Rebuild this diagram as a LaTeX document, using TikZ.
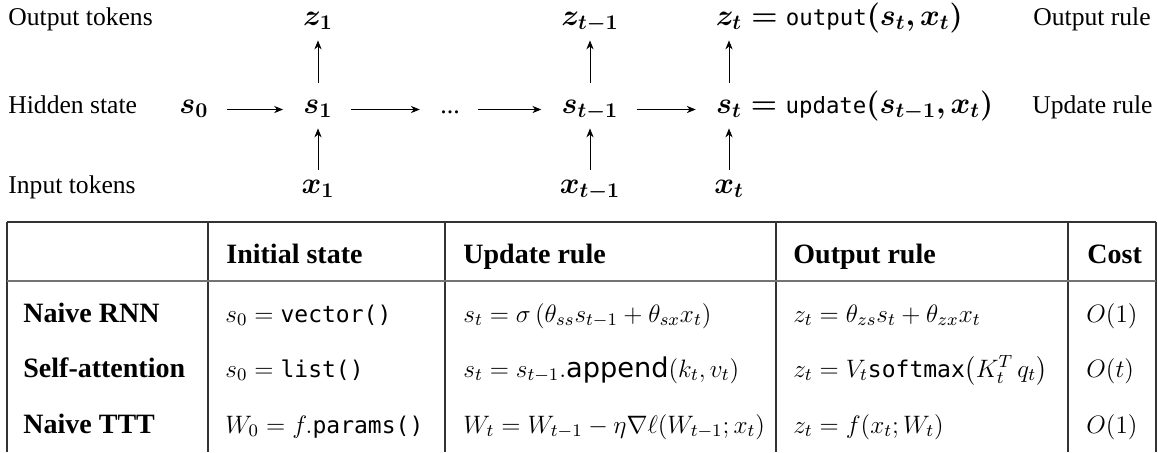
\RequirePackage{fix-cm}
\documentclass[tikz,border=0pt]{standalone}
\usepackage{amsmath}
\usepackage{bm}
\usepackage[no-math]{fontspec}
\setmainfont{Liberation Serif}
\setmonofont{DejaVu Sans Mono}
\setsansfont{DejaVu Sans}
\usetikzlibrary{arrows.meta}
\newcommand{\ttop}[1]{\text{\fontsize{11.2}{13}\selectfont\ttfamily #1}}
\newcommand{\ttab}[1]{\text{\fontsize{11.5}{13}\selectfont\ttfamily #1}}
\newcommand{\stab}[1]{\text{\fontsize{13.6}{15}\selectfont\sffamily #1}}
\begin{document}
\begin{tikzpicture}[x=0.5pt,y=-0.5pt,
  lbl/.style={anchor=base west,inner sep=0pt,font=\fontsize{12.8}{15}\selectfont},
  mnode/.style={anchor=base,inner xsep=0pt,inner ysep=0pt,text height=6pt,text depth=2.5pt,font=\fontsize{15}{17}\selectfont},
  mdef/.style={anchor=base west,inner sep=0pt,font=\fontsize{15}{17}\selectfont},
  arr/.style={-{Stealth[length=4.5pt,width=3.6pt]},line width=0.5pt},
  harr/.style={arr,shorten <=9pt,shorten >=10pt},
  upin/.style={arr,shorten <=5.5pt,shorten >=5pt},
  upout/.style={arr,shorten <=9pt,shorten >=5pt},
  tline/.style={line width=0.6pt,draw=black!80},
  hsep/.style={line width=1pt,draw=black!55},
  thead/.style={anchor=base west,inner sep=0pt,font=\fontsize{14}{16}\selectfont\bfseries},
  tcell/.style={anchor=base west,inner sep=0pt,font=\fontsize{12.6}{15}\selectfont},
]
\useasboundingbox (0,0) rectangle (1158,452);

% ---- top diagram labels
\node[lbl] (lout) at (8,25) {Output tokens};
\node[lbl] (lhid) at (8,113) {Hidden state};
\node[lbl] (linp) at (8,193) {Input tokens};
\node[lbl] (rout) at (1033,25) {Output rule};
\node[lbl] (rupd) at (1032,113) {Update rule};

% ---- math nodes
\node[mnode] (s0) at (194,113) {$\bm{s_0}$};
\node[mnode] (s1) at (318,113) {$\bm{s_1}$};
\node[mnode] (dots) at (450,113) {\fontsize{13}{15}\selectfont...};
\node[mnode] (stm) at (590,113) {$\bm{s_{t-1}}$};
\node[mnode] (st) at (729,113) {$\bm{s_t}$};
\node[mdef] (stdef) at (st.base east) {${}\bm{=}\ttop{update}\bm{(s_{t-1},x_t)}$};

\node[mnode] (z1) at (318,25) {$\bm{z_1}$};
\node[mnode] (ztm) at (590,25) {$\bm{z_{t-1}}$};
\node[mnode] (zt) at (729,25) {$\bm{z_t}$};
\node[mdef] (ztdef) at (zt.base east) {${}\bm{=}\ttop{output}\bm{(s_t,x_t)}$};

\node[mnode] (x1) at (318,193) {$\bm{x_1}$};
\node[mnode] (xtm) at (590,193) {$\bm{x_{t-1}}$};
\node[mnode] (xt) at (729,193) {$\bm{x_t}$};

% ---- connectors
\draw[harr] (s0) -- (s1);
\draw[harr] (s1) -- (dots);
\draw[harr] (dots) -- (stm);
\draw[harr] (stm) -- (st);
\draw[upin] (x1) -- (s1);
\draw[upin] (xtm) -- (stm);
\draw[upin] (xt) -- (st);
\draw[upout] (s1) -- (z1);
\draw[upout] (stm) -- (ztm);
\draw[upout] (st) -- (zt);

% ---- table
\draw[tline] (7,222) -- (1156,222);
\foreach \xx in {7,208,445,776,1068,1156} \draw[tline] (\xx,222) -- (\xx,452);
\draw[hsep] (7,281) -- (1156,281);

\node[thead] (h2) at (226,263) {Initial state};
\node[thead] (h3) at (463,263) {Update rule};
\node[thead] (h4) at (793,263) {Output rule};
\node[thead] (h5) at (1087,263) {Cost};

\node[thead] (r1) at (23,322) {Naive RNN};
\node[thead] (r2) at (23,377) {Self-attention};
\node[thead] (r3) at (23,433) {Naive TTT};

\node[tcell] (c12) at (225,322) {$s_0=\ttab{vector()}$};
\node[tcell] (c22) at (225,377) {$s_0=\ttab{list()}$};
\node[tcell] (c32) at (225,433) {$W_0=f.\ttab{params()}$};

\node[tcell] (c13) at (463,322) {$s_t=\sigma\,(\theta_{ss}s_{t-1}+\theta_{sx}x_t)$};
\node[tcell] (c23) at (463,377) {$s_t=s_{t-1}.\stab{append}(k_t,v_t)$};
\node[tcell] (c33) at (463,433) {$W_t=W_{t-1}-\eta\nabla\ell(W_{t-1};x_t)$};

\node[tcell] (c14) at (793,322) {$z_t=\theta_{zs}s_t+\theta_{zx}x_t$};
\node[tcell] (c24) at (793,377) {$z_t=V_t\ttab{softmax}\bigl(K_t^T\,q_t\bigr)$};
\node[tcell] (c34) at (793,433) {$z_t=f(x_t;W_t)$};

\node[tcell] (c15) at (1086,322) {$O(1)$};
\node[tcell] (c25) at (1086,377) {$O(t)$};
\node[tcell] (c35) at (1086,433) {$O(1)$};
\end{tikzpicture}
\end{document}
